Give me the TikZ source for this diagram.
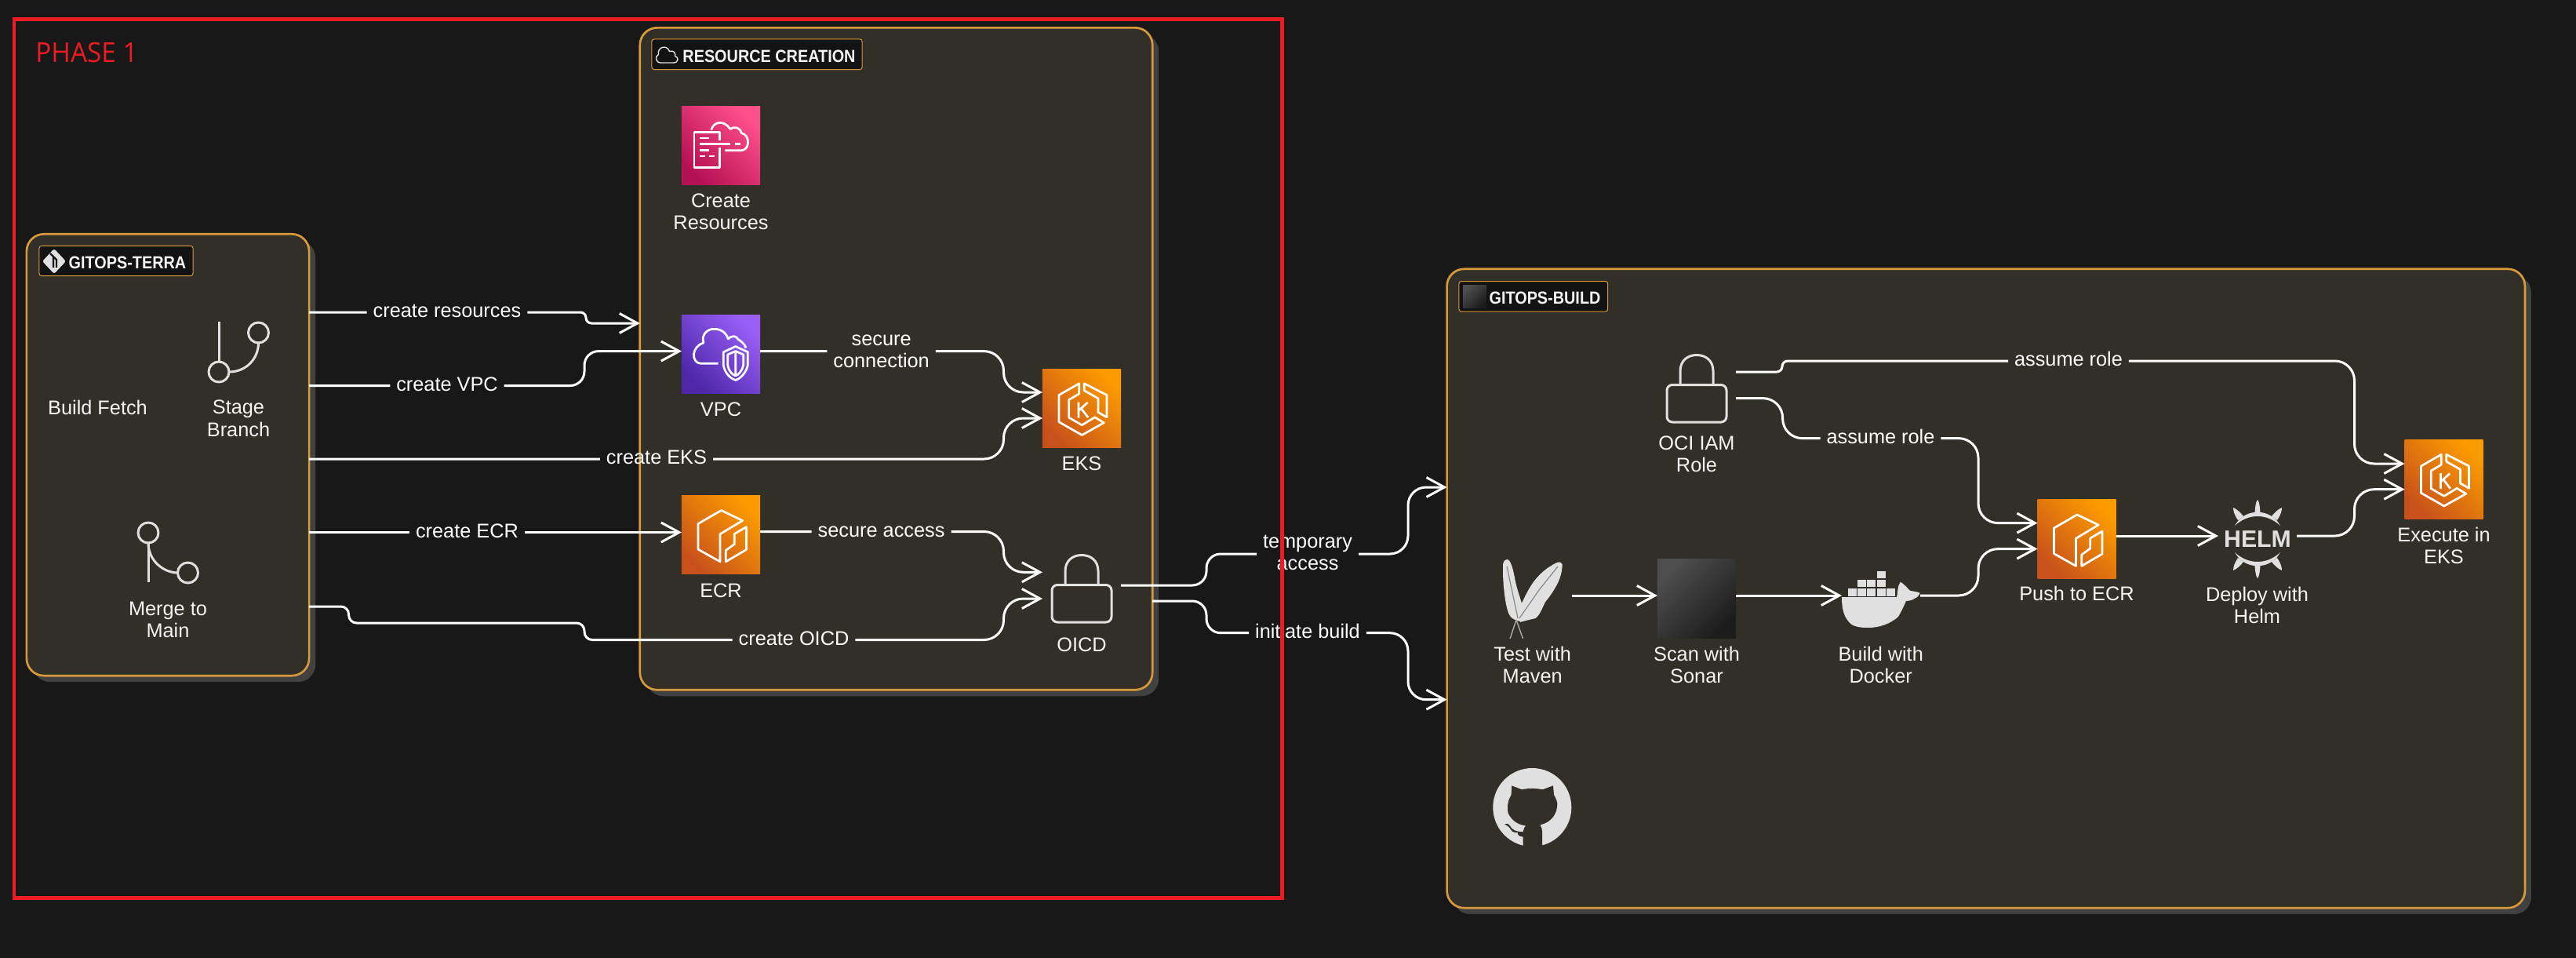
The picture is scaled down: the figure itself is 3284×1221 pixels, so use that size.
\documentclass[tikz,border=0pt]{standalone}
\usepackage{fontspec}
\setmainfont{Liberation Sans}
\newfontfamily\chipfont[FakeStretch=0.89]{Liberation Sans}
\newfontfamily\phasefont[FakeStretch=0.95]{Open Sans}
\usetikzlibrary{arrows.meta}
\definecolor{bgc}{HTML}{181818}
\definecolor{boxc}{HTML}{322F28}
\definecolor{shadc}{HTML}{414141}
\definecolor{orangeb}{HTML}{D8993B}
\definecolor{chipc}{HTML}{131313}
\definecolor{iconc}{HTML}{E0E0E0}
\definecolor{redc}{HTML}{ED1C24}
\definecolor{capc}{HTML}{F4F4F4}
\definecolor{orA}{RGB}{250,155,0}
\definecolor{orB}{RGB}{200,81,27}
\definecolor{piA}{RGB}{255,79,139}
\definecolor{piB}{RGB}{182,16,84}
\definecolor{puA}{RGB}{152,94,246}
\definecolor{puB}{RGB}{77,39,168}
\definecolor{daA}{RGB}{78,78,78}
\definecolor{daB}{RGB}{28,28,28}
\newcommand{\st}{\vrule height .18cm depth .05cm width 0pt}
\tikzset{
  groupbox/.style={draw=orangeb,line width=.027cm,fill=boxc,rounded corners=.22cm,inner sep=0pt,outer sep=0pt,
    preaction={draw=none,fill=shadc,transform canvas={shift={(8,8)}}}},
  chip/.style={draw=orangeb,line width=.01cm,fill=chipc,rounded corners=.03cm,inner sep=0pt,outer sep=0pt},
  chiptext/.style={font={\chipfont\bfseries\fontsize{6.34}{7}\selectfont},text=capc,inner sep=0pt},
  iconbox/.style={minimum width=1cm,minimum height=1cm,inner sep=0pt,outer sep=0pt},
  capt/.style={font={\fontsize{7.2}{7.97}\selectfont},text=capc,align=center,inner sep=0pt},
  capone/.style={capt,text height=.18cm,text depth=.05cm},
  lab/.style={font={\fontsize{7.2}{7.97}\selectfont},text=white,align=center,inner xsep=.08cm,inner ysep=0pt,outer sep=0pt},
  conn/.style={draw=white,line width=.03cm,line join=round},
  arr/.style={-{Straight Barb[length=.23cm,width=.25cm]}},
  sym/.style={draw=white,line width=.027cm,line join=round,fill=none},
  gly/.style={draw=iconc,line width=.03cm,fill=none,line join=round},
  orangeicon/.style={iconbox,top color=orA,bottom color=orB,shading angle=-45},
  pinkicon/.style={iconbox,top color=piA,bottom color=piB,shading angle=-45},
  purpleicon/.style={iconbox,top color=puA,bottom color=puB,shading angle=-45},
  darkicon/.style={top color=daA,bottom color=daB,shading angle=45,inner sep=0pt,outer sep=0pt},
  ecrsym/.pic={
    \draw[sym] (-29,-14) -- (-29,18.6) -- (-1,34.4) -- (-1,-.8) -- (27.7,-18) -- (.5,-31) -- cycle;
    \draw[sym] (6.3,34.4) -- (32.4,19) -- (32.4,-10) -- (17.3,-1) -- (17.3,12) -- (6.3,20) -- cycle;
  },
  ekssym/.pic={
    \draw[sym] (-3.3,-31.7) -- (-29,-17) -- (-29,17.3) -- (.3,34) -- (28.3,18.3) -- (16.7,11.3) -- (.3,21.3) -- (-16.3,11.7) -- (-16.3,-11) -- (-3.3,-18.7) -- cycle;
    \draw[sym] (3.3,-31.7) -- (32,-17) -- (32,11.3) -- (21,5) -- (21,-12.7) -- (3.3,-22.7) -- cycle;
    \draw[sym] (-4,-8) -- (-4,12) (7.7,-7.7) -- (-4,3) (-.7,0) -- (8.3,11.7);
  },
  cfsym/.pic={
    \draw[sym] (-1.3,-7) -- (-1.3,-17.2) -- (-34,-17.2) -- (-34,28.2) -- (-1.3,28.2) -- (-1.3,2);
    \draw[sym] (-27.3,-9.5) -- (-14.7,-9.5) (-27.3,-2.2) -- (12,-2.2) (17.7,-2.2) -- (25,-2.2)
      (-27.3,5.8) -- (-14.7,5.8) (-27.3,13.5) -- (-19.7,13.5) (-14.7,13.5) -- (-8,13.5);
    \draw[sym] (-12.3,-20) .. controls (-9,-31) and (4,-33) .. (12,-21) .. controls (17,-25) and (25,-23) .. (26,-16) .. controls (32,-15) and (35,-9) .. (34.5,-3) .. controls (34,3) and (30,6.2) .. (26,6.2) -- (5.3,6.2);
  },
  vpcsym/.pic={
    \draw[sym] (-3.3,11.8) -- (-25.7,11.8) .. controls (-38,11) and (-38,-10) .. (-22,-14.5) .. controls (-26,-26) and (-15,-33) .. (-9,-32) .. controls (0,-33) and (7,-27) .. (9.3,-19.5) .. controls (13,-24) and (20,-24) .. (22,-19) .. controls (25,-17) and (30,-14) .. (32,-8);
    \draw[sym] (18.7,-10) -- (3.3,-2.8) -- (3.3,14) .. controls (5,24) and (12,31) .. (18.7,33) .. controls (25,31) and (32,24) .. (34.3,14) -- (34.3,-2.8) -- cycle;
    \draw[sym] (18.7,-4) -- (8.7,.5) -- (8.7,14) .. controls (10,21) and (14,26) .. (18.7,27.5) .. controls (23,26) and (27,21) .. (28.7,14) -- (28.7,.5) -- cycle (18.7,-4) -- (18.7,27.5);
  },
  locksym/.pic={
    \draw[gly,rounded corners=.07cm] (-38,-4.5) rectangle (38,43);
    \draw[gly] (-21,-4.5) -- (-21,-22) .. controls (-21,-35) and (-12,-42.5) .. (0,-42.5) .. controls (12,-42.5) and (21,-35) .. (21,-22) -- (21,-4.5);
  },
  branchsym/.pic={
    \draw[gly] (-25,-32) -- (-25,19);
    \draw[gly] (-25,32) circle[radius=.13cm];
    \draw[gly] (25.5,-18) circle[radius=.13cm];
    \draw[gly] (25.5,-5) .. controls (25.5,15) and (10,32) .. (-12,32);
  },
  mergesym/.pic={
    \draw[gly] (-25,-18) -- (-25,32);
    \draw[gly] (-25,-31) circle[radius=.13cm];
    \draw[gly] (25.5,20) circle[radius=.13cm];
    \draw[gly] (-25,-18) .. controls (-25,5) and (-5,20) .. (12.5,20);
  },
  gitsym/.pic={
    \fill[iconc,rounded corners=.025cm] (0,-16) -- (15,0) -- (0,16) -- (-15,0) -- cycle;
    \draw[chipc,line width=.022cm] (-5,-10) -- (3,-2) -- (3,8) (-1,-6) -- (-1,8);
  },
  cloudsym/.pic={
    \draw[iconc,line width=.014cm,line join=round] (-8,10.5) .. controls (-15,10.5) and (-16,2) .. (-11,0) .. controls (-13,-10) and (0,-13) .. (3,-4) .. controls (9,-6) and (11,-1) .. (10,2) .. controls (15,3) and (15,10.5) .. (8,10.5) -- cycle;
  },
  mavensym/.pic={\begin{scope}[shift={(-1953.5,-763)}]
    \fill[iconc] (1921,713) .. controls (1926,713) and (1929,725) .. (1932,741.7) .. controls (1935,755) and (1941,770) .. (1940.6,773) -- (1938,792) .. controls (1930,790) and (1926,788) .. (1923.6,782.5) .. controls (1918,770) and (1915,735) .. (1916.3,717.7) .. controls (1917,715) and (1919,713) .. (1921,713) -- cycle;
    \fill[iconc] (1989,716.6) .. controls (1992,717) and (1992,720) .. (1991.5,723) .. controls (1991,730) and (1989,736) .. (1986.6,741.7) .. controls (1980,755) and (1974,762) .. (1969.7,767.7) .. controls (1965,778) and (1962,785) .. (1957.5,788) -- (1938,792.8) -- (1938,773) .. controls (1944,760) and (1949,750) .. (1955,741.7) .. controls (1962,732) and (1972,724) .. (1977,721.4) .. controls (1982,718) and (1986,716) .. (1989,716.6) -- cycle;
    \draw[boxc!50!iconc,line width=.012cm] (1921,722) -- (1935,788) (1986,722) -- (1962,752) -- (1937,788);
    \draw[iconc!70!boxc,line width=.014cm] (1933,790) -- (1925,814) (1933,790) -- (1941.5,814);
  \end{scope}},
  dockersym/.pic={\begin{scope}[shift={(-2398,-763)}]
    \foreach \x in {2356,2368,2380.3,2392.5,2404.5}{\fill[iconc] (\x,750) rectangle ++(11,9.5);}
    \foreach \x in {2368,2380.3,2392.5}{\fill[iconc] (\x,738.8) rectangle ++(11,9.5);}
    \fill[iconc] (2392.5,727.5) rectangle ++(11,9.7);
    \fill[iconc] (2348,761) -- (2418,761) .. controls (2420,755) and (2418,748) .. (2423,741.8) .. controls (2428,745) and (2432,750) .. (2435,752.8) .. controls (2440,754) and (2444,754) .. (2447.6,755.8) .. controls (2446,760) and (2443,762) .. (2442,762) .. controls (2438,765) and (2434,766) .. (2430,765.8) .. controls (2426,775) and (2423,781) .. (2420,786) .. controls (2410,795) and (2396,800) .. (2381.7,800) .. controls (2372,800) and (2362,799) .. (2357.4,793) .. controls (2350,785) and (2348,775) .. (2348,761) -- cycle;
  \end{scope}},
  helmsym/.pic={
    \foreach \s in {1,-1}{
      \begin{scope}[yscale=\s]
      \fill[iconc] (-29,-17) .. controls (-12,-33) and (12,-33) .. (29,-17) -- (25,-23) .. controls (12,-38) and (-12,-38) .. (-25,-23) -- cycle;
      \fill[iconc] (-3.5,-33) .. controls (-3,-42) and (-2,-48) .. (0,-50) .. controls (2,-48) and (3,-42) .. (3.5,-33) -- cycle;
      \fill[iconc] (-25,-24) .. controls (-29,-30) and (-31,-35) .. (-31,-40) .. controls (-26,-38) and (-21,-33) .. (-18,-29) -- cycle;
      \fill[iconc] (25,-24) .. controls (29,-30) and (31,-35) .. (31,-40) .. controls (26,-38) and (21,-33) .. (18,-29) -- cycle;
      \end{scope}
    }
  },
  ghsym/.pic={
    \fill[iconc] (0,0) circle[radius=.5cm];
    \fill[boxc] (-26,-27.7) -- (-13.3,-22.7) .. controls (-5,-24.5) and (5,-24.5) .. (13.3,-22.7) -- (26.7,-27.7) -- (27.7,-16) .. controls (31,-10) and (33,-5) .. (31.7,-1) .. controls (31,8) and (25,19) .. (10,22.3) .. controls (12,25) and (12.7,28) .. (12.7,30.7) -- (12.7,53) -- (-11.7,53) -- (-11.7,37.3) .. controls (-16,38) and (-19,35) .. (-18.3,32.3) .. controls (-23,32) and (-26,31) .. (-26.7,29) .. controls (-29,25) and (-32,23) .. (-35,21.3) .. controls (-32,20) and (-30,21) .. (-28,24) .. controls (-26,28) and (-22,31) .. (-11.7,31.3) .. controls (-11,28) and (-10,25) .. (-8.3,23.3) .. controls (-20,22) and (-27,15) .. (-30.7,7.3) .. controls (-31.5,2) and (-31.5,-2) .. (-30.7,-6) .. controls (-30,-10) and (-28,-13) .. (-26.7,-16) -- cycle;
  },
}
\begin{document}
\begin{tikzpicture}[x=.01cm,y=-.01cm]
\useasboundingbox (0,0) rectangle (3284,1221);
\fill[bgc] (0,0) rectangle (3284,1221);

% group boxes
\node[groupbox,minimum width=3.60cm,minimum height=5.625cm] (terra) at (214,579.75) {};
\node[groupbox,minimum width=6.53cm,minimum height=8.434cm] (res) at (1142.5,457.3) {};
\node[groupbox,minimum width=13.735cm,minimum height=8.14cm] (build) at (2531.75,750) {};

% chips
\node[chip,minimum width=1.96cm,minimum height=.38cm] (chipterra) at (148,332.5) {};
\node[chiptext] (chipterratxt) at (162.5,335) {GITOPS-TERRA};
\pic at (69,333) {gitsym};
\node[chip,minimum width=2.68cm,minimum height=.386cm] (chipres) at (965,69.3) {};
\node[chiptext] (chiprestxt) at (980.5,71.5) {RESOURCE CREATION};
\pic at (850.5,69.5) {cloudsym};
\node[chip,minimum width=1.896cm,minimum height=.385cm] (chipbuild) at (1954.8,377.8) {};
\node[chiptext] (chipbuildtxt) at (1969.5,379.5) {GITOPS-BUILD};
\node[darkicon,minimum width=.30cm,minimum height=.295cm] (chipbuildicon) at (1880,377.8) {};

% terra contents
\node[iconbox] (stage) at (304,442) {};
\pic at (stage.center) {branchsym};
\node[capt] (stagecap) at (304,535.5) {\st Stage\\\st Branch};
\node[capone] (fetchcap) at (124.5,521.5) {Build Fetch};
\node[iconbox] (merge) at (214,710) {};
\pic at (merge.center) {mergesym};
\node[capt] (mergecap) at (214,791.5) {\st Merge to\\\st Main};

% resource contents
\node[pinkicon] (cf) at (919,185.5) {};
\pic at (cf.center) {cfsym};
\node[capt] (cfcap) at (919,272) {\st Create\\\st Resources};
\node[purpleicon] (vpc) at (919,451.5) {};
\pic at (vpc.center) {vpcsym};
\node[capone] (vpccap) at (919,524) {VPC};
\node[orangeicon] (eks) at (1379,520.5) {};
\pic at (eks.center) {ekssym};
\node[capone] (ekscap) at (1379,593) {EKS};
\node[orangeicon] (ecr) at (919,681.5) {};
\pic at (ecr.center) {ecrsym};
\node[capone] (ecrcap) at (919,755) {ECR};
\node[iconbox] (oicd) at (1379,750) {};
\pic at (oicd.center) {locksym};
\node[capone] (oicdcap) at (1379,823.5) {OICD};

% build contents
\node[iconbox] (iam) at (2163,495) {};
\pic at (iam.center) {locksym};
\node[capt] (iamcap) at (2163,581) {\st OCI IAM\\\st Role};
\node[iconbox] (maven) at (1953.5,763) {};
\pic at (maven.center) {mavensym};
\node[capt] (mavencap) at (1953.7,850) {\st Test with\\\st Maven};
\node[darkicon,minimum width=1cm,minimum height=1cm] (sonar) at (2163,763) {};
\node[capt] (sonarcap) at (2163,850) {\st Scan with\\\st Sonar};
\node[iconbox] (docker) at (2398,763) {};
\pic at (docker.center) {dockersym};
\node[capt] (dockercap) at (2397.7,850) {\st Build with\\\st Docker};
\node[orangeicon] (pushecr) at (2647.5,687) {};
\pic at (pushecr.center) {ecrsym};
\node[capone] (pushcap) at (2647.5,759) {Push to ECR};
\node[iconbox,font={\bfseries\fontsize{8.6}{9}\selectfont},text=iconc] (helm) at (2878,687) {HELM};
\pic at (helm.center) {helmsym};
\node[capt] (helmcap) at (2877.5,773.5) {\st Deploy with\\\st Helm};
\node[orangeicon] (exec) at (3115.5,611) {};
\pic at (exec.center) {ekssym};
\node[capt] (execcap) at (3115.5,697.5) {\st Execute in\\\st EKS};
\node[iconbox] (gh) at (1953.3,1029) {};
\pic at (gh.center) {ghsym};

% connector labels
\node[lab] (lres) at (570,398) {\st create resources};
\node[lab] (lvpc) at (570,491.5) {\st create VPC};
\node[lab] (leks) at (837,585) {\st create EKS};
\node[lab] (lecr) at (595.5,678.5) {\st create ECR};
\node[lab] (loicd) at (1012,815.5) {\st create OICD};
\node[lab] (lsec) at (1123.6,447.6) {\st secure\\\st connection};
\node[lab] (lacc) at (1123.6,677.5) {\st secure access};
\node[lab] (ltemp) at (1667,706) {\st temporary\\\st access};
\node[lab] (linit) at (1667,806.7) {\st initiate build};
\node[lab] (lrole) at (2637,460) {\st assume role};
\node[lab] (lroleb) at (2397.5,558.6) {\st assume role};

% connectors
\draw[conn,arr] (terra.east |- 0,398) -- (lres.west) [rounded corners=.07cm] (lres.east) -- (747,398) -- (747,412) -- (res.west |- 0,412);
\draw[conn,arr] (terra.east |- 0,491.5) -- (lvpc.west) [rounded corners=.18cm] (lvpc.east) -- (745,491.5) -- (745,447.6) -- (vpc.west |- 0,447.6);
\draw[conn,arr] (terra.east |- 0,585) -- (leks.west) [rounded corners=.25cm] (leks.east) -- (1279.5,585) -- (1279.5,533) -- (eks.west |- 0,533);
\draw[conn,arr] (terra.east |- 0,678.5) -- (lecr.west) (lecr.east) -- (ecr.west |- 0,678.5);
\draw[conn,arr,rounded corners=.1cm] (terra.east |- 0,773) -- (444.6,773) -- (444.6,794) -- (745,794) -- (745,815.5) -- (loicd.west) [rounded corners=.25cm] (loicd.east) -- (1279.5,815.5) -- (1279.5,763) -- (oicd.west |- 0,763);
\draw[conn,arr] (vpc.east |- 0,447.6) -- (lsec.west) [rounded corners=.25cm] (lsec.east) -- (1279.5,447.6) -- (1279.5,500) -- (eks.west |- 0,500);
\draw[conn,arr] (ecr.east |- 0,677.5) -- (lacc.west) [rounded corners=.25cm] (lacc.east) -- (1279.5,677.5) -- (1279.5,729.3) -- (oicd.west |- 0,729.3);
\draw[conn,arr,rounded corners=.18cm] (oicd.east |- 0,746) -- (1538,746) -- (1538,706) -- (ltemp.west) [rounded corners=.23cm] (ltemp.east) -- (1795,706) -- (1795,621) -- (build.west |- 0,621);
\draw[conn,arr,rounded corners=.18cm] (res.east |- 0,766) -- (1538,766) -- (1538,806.7) -- (linit.west) [rounded corners=.23cm] (linit.east) -- (1795,806.7) -- (1795,891.7) -- (build.west |- 0,891.7);
\draw[conn,arr,rounded corners=.07cm] (iam.east |- 0,474) -- (2272,474) -- (2272,460) -- (lrole.west) [rounded corners=.25cm] (lrole.east) -- (3001.5,460) -- (3001.5,591) -- (exec.west |- 0,591);
\draw[conn,arr,rounded corners=.25cm] (iam.east |- 0,507.6) -- (2272.6,507.6) -- (2272.6,558.6) -- (lroleb.west) (lroleb.east) -- (2522,558.6) -- (2522,666.6) -- (pushecr.west |- 0,666.6);
\draw[conn,arr] (maven.east |- 0,759) -- (sonar.west |- 0,759);
\draw[conn,arr] (sonar.east |- 0,759) -- (docker.west |- 0,759);
\draw[conn,arr,rounded corners=.25cm] (docker.east |- 0,759) -- (2522,759) -- (2522,699.6) -- (pushecr.west |- 0,699.6);
\draw[conn,arr] (pushecr.east |- 0,683) -- (helm.west |- 0,683);
\draw[conn,arr,rounded corners=.25cm] (helm.east |- 0,683) -- (3001.5,683) -- (3001.5,623.7) -- (exec.west |- 0,623.7);

% phase frame
\node[font={\phasefont\fontsize{9.96}{11}\selectfont},text=redc,inner sep=0pt] (phase) at (110.5,66.5) {PHASE 1};
\draw[redc,line width=.046cm] (18,24.5) rectangle (1634.3,1144.5);
\end{tikzpicture}
\end{document}
